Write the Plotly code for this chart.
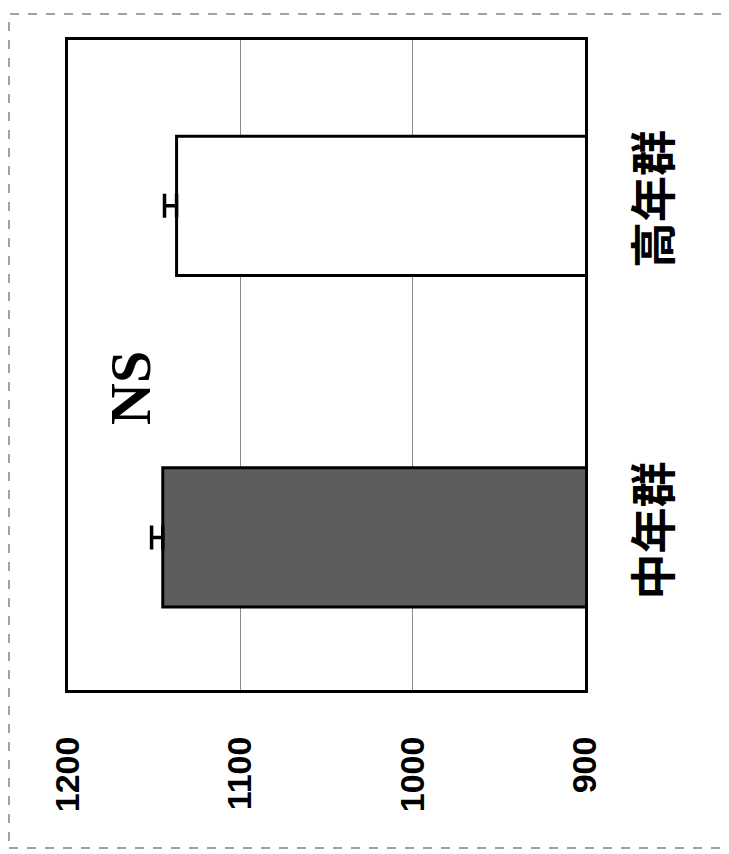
import plotly.graph_objects as go

categories = ["中年群", "高年群"]
values = [1145, 1137]
errors = [6.5, 7]
bar_colors = ["#5c5c5c", "#ffffff"]
tick_vals = [900, 1000, 1100, 1200]
tick_text = ["900", "1000", "1100", "1200"]

W, H = 721, 846
L, R, T, B = 60, 144, 32, 164
PW, PH = W - L - R, H - T - B

fig = go.Figure()
fig.add_trace(go.Bar(
    y=[0, 1], x=values, orientation="h", width=0.42,
    marker=dict(color=bar_colors, line=dict(color="black", width=3)),
    error_x=dict(type="data", array=errors, arrayminus=[0, 0], symmetric=False,
                 color="black", thickness=3.5, width=12),
))

fig.update_layout(
    width=W, height=H,
    margin=dict(l=L, r=R, t=T, b=B),
    paper_bgcolor="white", plot_bgcolor="white",
    showlegend=False,
    xaxis=dict(range=[1200, 900], tickvals=tick_vals, ticktext=tick_text,
               tickangle=-90, showgrid=True, gridcolor="#8a8a8a", gridwidth=1,
               showline=True, linecolor="black", linewidth=3, mirror=True,
               ticks="", ticklabelstandoff=30,
               tickfont=dict(family="Liberation Sans, Arial", size=34, color="black", weight="bold"),
               zeroline=False),
    yaxis=dict(range=[-0.46, 1.5], tickvals=[0, 1], ticktext=categories, side="right",
               tickangle=-90, showgrid=False,
               showline=True, linecolor="black", linewidth=3, mirror=True,
               ticks="", ticklabelstandoff=27,
               tickfont=dict(family="Noto Sans CJK JP", size=46, color="black", weight="bold"),
               zeroline=False),
)

fig.add_annotation(x=(130 - 68) / PW, y=(690 - 388) / PH, xref="paper", yref="paper",
                   xanchor="center", yanchor="middle", text="<b>NS</b>",
                   textangle=-90, showarrow=False,
                   font=dict(family="Liberation Serif, Times New Roman", size=58, color="black"))

fig.add_shape(type="rect", xref="paper", yref="paper",
              x0=(1 - L) / PW, x1=(714 - L) / PW,
              y0=(PH + T - 840) / PH, y1=(PH + T - 6) / PH,
              line=dict(color="#444", width=1, dash="dash"))

fig.write_html("out.html")
